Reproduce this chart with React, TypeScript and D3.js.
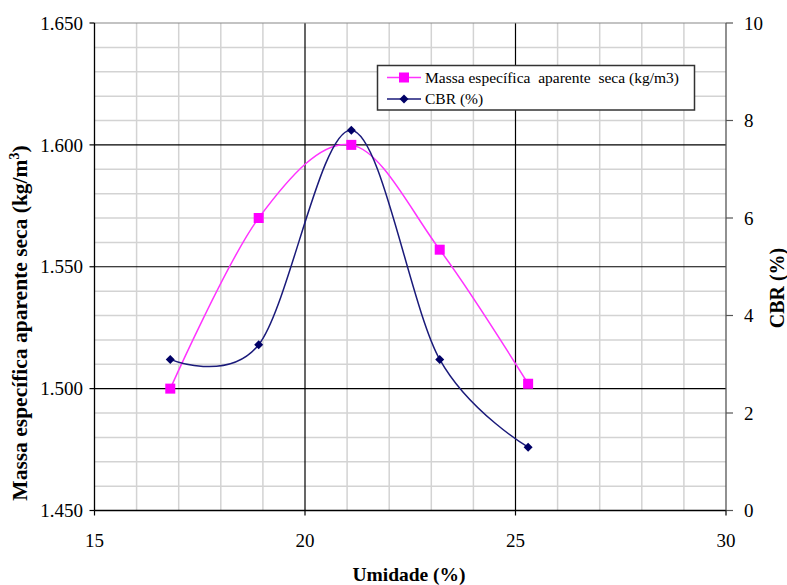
import React from "react";
import * as d3 from "d3";

const umidade = [16.8, 18.9, 21.1, 23.2, 25.3];
const massa = [1.5, 1.57, 1.6, 1.557, 1.502];
const cbr = [3.1, 3.4, 7.8, 3.1, 1.3];
const xTicks = [15, 20, 25, 30];
const yLeftTicks = [1.45, 1.5, 1.55, 1.6, 1.65];
const yRightTicks = [0, 2, 4, 6, 8, 10];
const xMinor = d3.range(16, 30);
const yMinor = d3.range(1, 20).map((i) => 1.45 + i * 0.01);

const W = 787;
const H = 585;
const L = 94.5;
const R = 726;
const T = 23;
const B = 510.5;
const TS: React.CSSProperties = { fontFamily: "Liberation Serif", whiteSpace: "pre" };

export default function App() {
  const x = d3.scaleLinear().domain([15, 30]).range([L, R]);
  const yL = d3.scaleLinear().domain([1.45, 1.65]).range([B, T]);
  const yR = d3.scaleLinear().domain([0, 10]).range([B, T]);
  const curve = d3.curveCatmullRom.alpha(0);
  const massaLine = d3
    .line<number>()
    .x((_, i) => x(umidade[i]))
    .y((d) => yL(d))
    .curve(curve)(massa);
  const cbrLine = d3
    .line<number>()
    .x((_, i) => x(umidade[i]))
    .y((d) => yR(d))
    .curve(curve)(cbr);
  const isMajorX = (v: number) => v % 5 === 0;
  const isMajorY = (v: number) => Math.abs(Math.round(v * 100) % 5) === 0;

  return (
    <svg width={W} height={H} style={{ position: "absolute", left: 0, top: 0, background: "#fff" }}>
      <rect x={0} y={0} width={W} height={H} fill="#fff" />
      {/* minor grid */}
      {xMinor.filter((v) => !isMajorX(v)).map((v) => (
        <line key={"xm" + v} x1={x(v)} x2={x(v)} y1={T} y2={B} stroke="#d3d3d3" strokeWidth={1.5} />
      ))}
      {yMinor.filter((v) => !isMajorY(v)).map((v, i) => (
        <line key={"ym" + i} x1={L} x2={R} y1={yL(v)} y2={yL(v)} stroke="#d3d3d3" strokeWidth={1.5} />
      ))}
      {/* major grid */}
      {[20, 25].map((v) => (
        <line key={"xM" + v} x1={x(v)} x2={x(v)} y1={T} y2={B} stroke="#000" strokeWidth={1.2} />
      ))}
      {[1.5, 1.55, 1.6].map((v) => (
        <line key={"yM" + v} x1={L} x2={R} y1={yL(v)} y2={yL(v)} stroke="#000" strokeWidth={1.2} />
      ))}
      <line x1={L} x2={R} y1={T} y2={T} stroke="#888" strokeWidth={1.2} />
      {/* axes */}
      <line x1={L} x2={L} y1={T} y2={B} stroke="#000" strokeWidth={1.3} />
      <line x1={L} x2={R} y1={B} y2={B} stroke="#000" strokeWidth={1.3} />
      <line x1={R} x2={R} y1={T} y2={B} stroke="#555" strokeWidth={1.3} />
      {yLeftTicks.map((v) => (
        <g key={"yl" + v}>
          <line x1={L - 5} x2={L} y1={yL(v)} y2={yL(v)} stroke="#000" strokeWidth={1.2} />
          <text x={83} y={yL(v)} dy="0.35em" textAnchor="end" fontSize={19} fill="#000" style={TS}>
            {v.toFixed(3)}
          </text>
        </g>
      ))}
      {yRightTicks.map((v) => (
        <g key={"yr" + v}>
          <line x1={R} x2={R + 7} y1={yR(v)} y2={yR(v)} stroke="#555" strokeWidth={1.2} />
          <text x={R + 18} y={yR(v)} dy="0.35em" textAnchor="start" fontSize={19} fill="#000" style={TS}>
            {v}
          </text>
        </g>
      ))}
      {xTicks.map((v) => (
        <g key={"xt" + v}>
          <line x1={x(v)} x2={x(v)} y1={B} y2={B + 5} stroke="#000" strokeWidth={1.2} />
          <text x={x(v)} y={540} dy="0.35em" textAnchor="middle" fontSize={19} fill="#000" style={TS}>
            {v}
          </text>
        </g>
      ))}
      {/* series */}
      <path d={massaLine || ""} fill="none" stroke="#ff33ff" strokeWidth={1.5} />
      <path d={cbrLine || ""} fill="none" stroke="#1a1a7a" strokeWidth={1.5} />
      {massa.map((v, i) => (
        <rect key={"m" + i} x={x(umidade[i]) - 5} y={yL(v) - 5} width={10} height={10} fill="#ff00ff" />
      ))}
      {cbr.map((v, i) => {
        const cx = x(umidade[i]);
        const cy = yR(v);
        return (
          <path key={"c" + i} d={`M${cx},${cy - 4.5}L${cx + 4.5},${cy}L${cx},${cy + 4.5}L${cx - 4.5},${cy}Z`} fill="#000066" />
        );
      })}
      {/* legend */}
      <rect x={377.5} y={65.5} width={317} height={44.5} fill="#fff" stroke="#333" strokeWidth={1.5} />
      <line x1={387} x2={421} y1={77.5} y2={77.5} stroke="#ff33ff" strokeWidth={1.5} />
      <rect x={399} y={72.5} width={10} height={10} fill="#ff00ff" />
      <text x={425} y={77.5} dy="0.35em" fontSize={15.5} fill="#000" style={TS}>
        {"Massa específica  aparente  seca (kg/m3)"}
      </text>
      <line x1={387} x2={421} y1={99} y2={99} stroke="#1a1a7a" strokeWidth={1.5} />
      <path d={`M404,94.5L408.5,99L404,103.5L399.5,99Z`} fill="#000066" />
      <text x={425} y={99} dy="0.35em" fontSize={15.5} fill="#000" style={TS}>
        CBR (%)
      </text>
      {/* titles */}
      <text transform={`translate(27,323) rotate(-90)`} textAnchor="middle" fontSize={21.5} fontWeight="bold" fill="#000" style={TS}>
        Massa específica aparente seca (kg/m<tspan dy="-8" fontSize={14}>3</tspan><tspan dy="8">)</tspan>
      </text>
      <text transform={`translate(784,288) rotate(-90)`} textAnchor="middle" fontSize={20} fontWeight="bold" fill="#000" style={TS}>
        CBR (%)
      </text>
      <text x={409} y={581} textAnchor="middle" fontSize={19.5} fontWeight="bold" fill="#000" style={TS}>
        Umidade (%)
      </text>
    </svg>
  );
}
